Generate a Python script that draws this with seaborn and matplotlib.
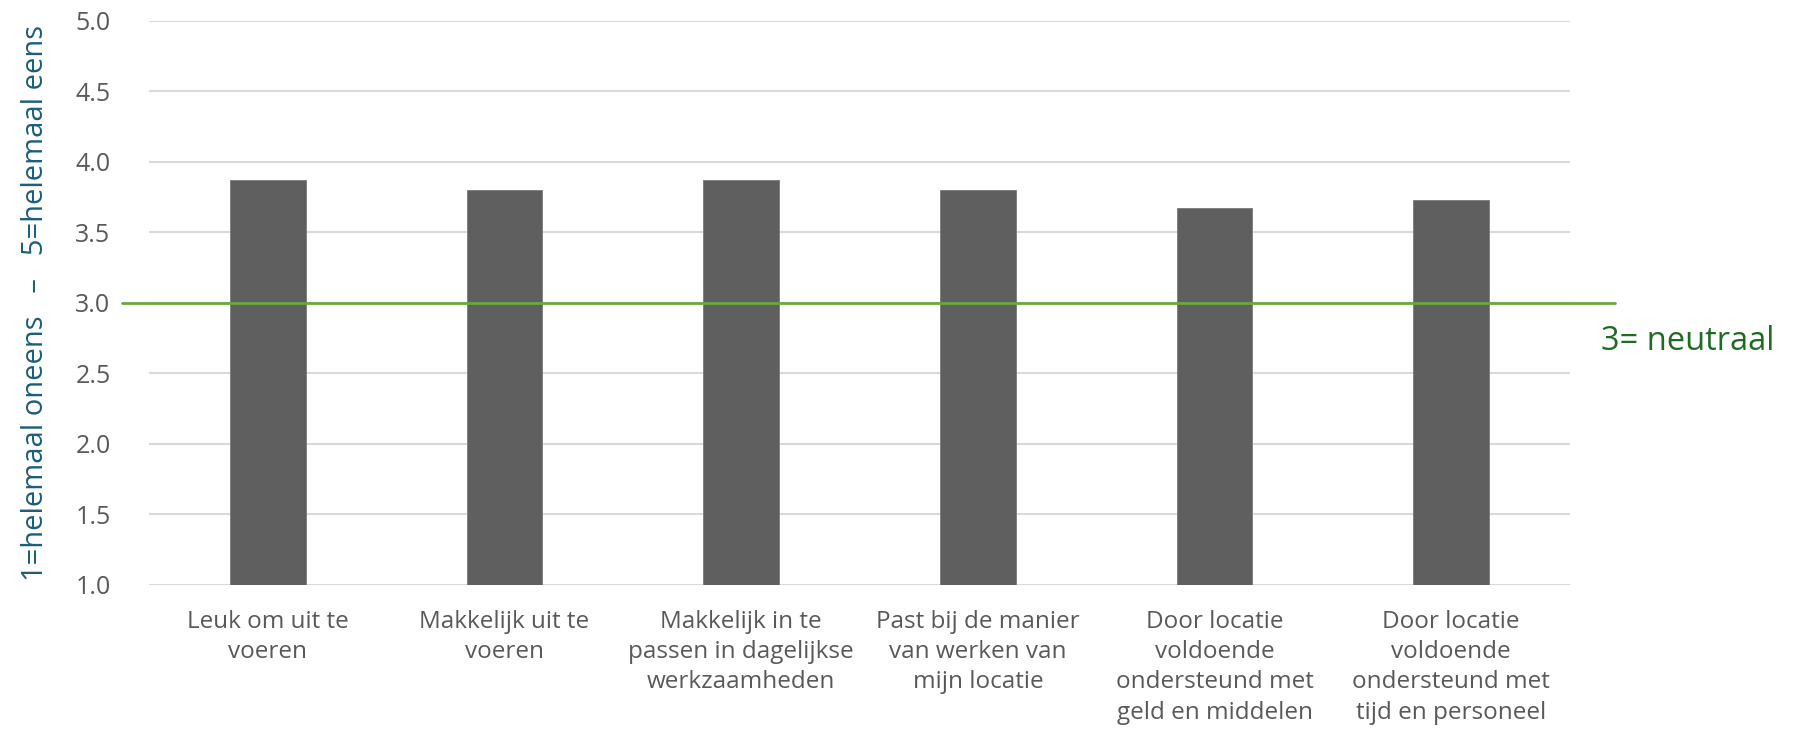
import matplotlib.pyplot as plt
import seaborn as sns
import pandas as pd

categories = [
    "Leuk om uit te\nvoeren",
    "Makkelijk uit te\nvoeren",
    "Makkelijk in te\npassen in dagelijkse\nwerkzaamheden",
    "Past bij de manier\nvan werken van\nmijn locatie",
    "Door locatie\nvoldoende\nondersteund met\ngeld en middelen",
    "Door locatie\nvoldoende\nondersteund met\ntijd en personeel",
]
scores = [3.87, 3.80, 3.87, 3.80, 3.67, 3.73]
yticks = [1.0, 1.5, 2.0, 2.5, 3.0, 3.5, 4.0, 4.5, 5.0]
neutral = 3.0

df = pd.DataFrame({"item": categories, "score": scores})

sns.set_theme(style="white")
plt.rcParams["font.family"] = ["Open Sans", "DejaVu Sans"]

fig = plt.figure(figsize=(18, 7.43), dpi=100)
ax = fig.add_axes([0.083, 0.213, 0.789, 0.759])

# bars start at 1 (bottom of the scale)
sns.barplot(data=df, x="item", y="score", color="#5f5f5f", saturation=1,
            width=0.32, ax=ax, zorder=2)
for p, v in zip(ax.patches, scores):
    p.set_y(1.0)
    p.set_height(v - 1.0)
    p.set_edgecolor("#7a7a7a")
    p.set_linewidth(0.6)

ax.set_ylim(1.0, 5.0)
ax.set_yticks(yticks)
ax.set_yticklabels([f"{t:.1f}" for t in yticks], color="#595959", fontsize=18)
ax.yaxis.grid(True, color="#d9d9d9", linewidth=1.5, zorder=0)
ax.set_axisbelow(True)
for s in ax.spines.values():
    s.set_visible(False)
ax.tick_params(axis="y", length=0, pad=28)
ax.tick_params(axis="x", length=0, pad=18, labelsize=17.5, labelcolor="#595959")
for lab in ax.get_xticklabels():
    lab.set_linespacing(1.35)
ax.set_xlabel("")
ax.set_ylabel("1=helemaal oneens   \u2013   5=helemaal eens", color="#1b5e7b",
              fontsize=21, labelpad=18)

# neutral reference line, running a bit past the plot area
ax.axhline(neutral, xmin=-0.019, xmax=1.032, color="#6aaa38", linewidth=2,
           clip_on=False, zorder=3)
ax.text(1.022, 0.432, "3= neutraal", transform=ax.transAxes, color="#1e6b22",
        fontsize=23.5, va="center", ha="left")

fig.savefig("out.png", dpi=100)
